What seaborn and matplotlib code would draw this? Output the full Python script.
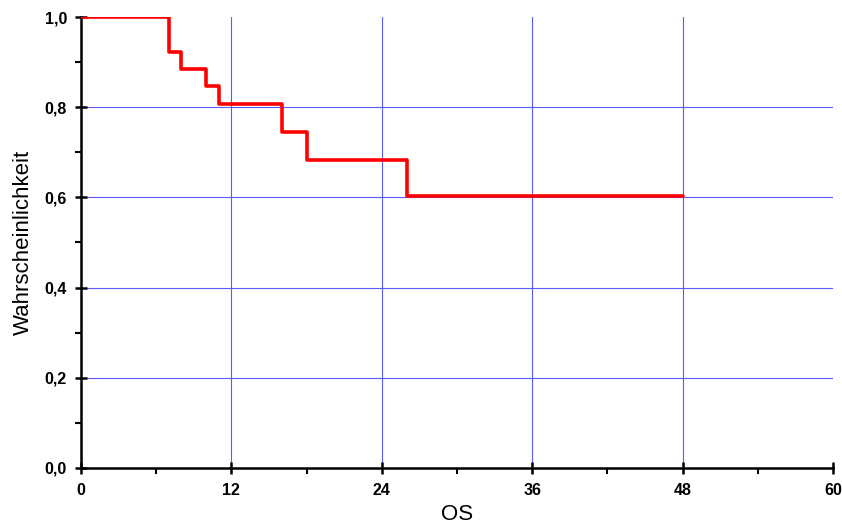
import matplotlib
matplotlib.use("Agg")
import matplotlib.pyplot as plt
from matplotlib.ticker import MultipleLocator, FuncFormatter
import seaborn as sns
import pandas as pd

# Kaplan-Meier estimate
time_months = [0, 7, 8, 10, 11, 16, 18, 26, 48]
survival = [1.0, 0.923, 0.885, 0.846, 0.806, 0.745, 0.682, 0.604, 0.604]
x_ticks = [0, 12, 24, 36, 48, 60]
y_ticks = [0.0, 0.2, 0.4, 0.6, 0.8, 1.0]

sns.set_theme(style="white")
plt.rcParams['font.family'] = ['Liberation Sans', 'DejaVu Sans']

df = pd.DataFrame({"OS": time_months, "Wahrscheinlichkeit": survival})

fig = plt.figure(figsize=(8.42, 5.26), dpi=100)
ax = fig.add_axes([81/842, 1-468/526, (833-81)/842, (468-17)/526])

sns.lineplot(data=df, x="OS", y="Wahrscheinlichkeit", drawstyle="steps-post",
             color="#ff0000", linewidth=2.6, ax=ax, zorder=3)

ax.set_xlim(0, 60)
ax.set_ylim(0, 1.0)
ax.set_xticks(x_ticks)
ax.set_yticks(y_ticks)
ax.xaxis.set_minor_locator(MultipleLocator(6))
ax.yaxis.set_minor_locator(MultipleLocator(0.1))
ax.yaxis.set_major_formatter(FuncFormatter(lambda v, p: f"{v:.1f}".replace(".", ",")))

ax.grid(True, which="major", color="#5a5aff", linewidth=0.8)
ax.set_axisbelow(True)
# no grid line at the outer edges (x=60, y=1.0)
ax.xaxis.get_gridlines()[-1].set_visible(False)
ax.yaxis.get_gridlines()[-1].set_visible(False)

for s in ["top", "right"]:
    ax.spines[s].set_visible(False)
for s in ["left", "bottom"]:
    ax.spines[s].set_color("black")
    ax.spines[s].set_linewidth(1.8)

ax.tick_params(which="major", direction="inout", length=8, width=1.8, colors="black",
               labelsize=11.5)
ax.tick_params(axis="x", which="major", pad=7)
ax.tick_params(axis="y", which="major", pad=6)
ax.tick_params(which="minor", direction="out", length=4, width=1.5, colors="black")
ax.tick_params(axis="both", which="both", bottom=True, left=True)
for lab in ax.get_xticklabels() + ax.get_yticklabels():
    lab.set_fontweight("bold")

ax.set_xlabel("OS", fontsize=16, labelpad=4, color="black")
ax.set_ylabel("Wahrscheinlichkeit", fontsize=16, labelpad=8, color="black")

fig.savefig("out.png", dpi=100)
